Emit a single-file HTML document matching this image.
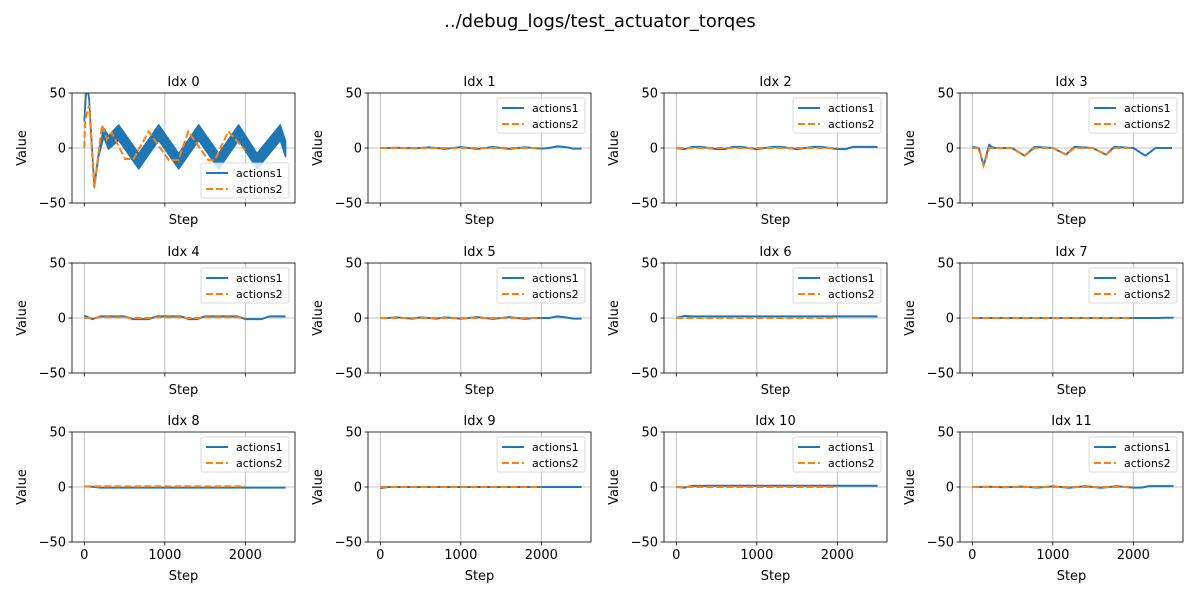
<!DOCTYPE html>
<html><head><meta charset="utf-8"><style>
body{margin:0;background:#fff;}
svg text{font-family:"DejaVu Sans","Liberation Sans",sans-serif;fill:#000;}
</style></head><body>
<svg id="fig" width="1200" height="600" viewBox="0 0 1200 600" xmlns="http://www.w3.org/2000/svg">
<rect width="1200" height="600" fill="#fff"/>
<text x="600" y="27" font-size="18" text-anchor="middle">../debug_logs/test_actuator_torqes</text>
</svg>
<script>
const xTicks=[0,1000,2000];
const yTicks=[-50,0,50];
const xTickLabels=["0","1000","2000"];
const yTickLabels=["−50","0","50"];
const stepsA=[0,100,200,300,400,500,600,700,800,900,1000,1100,1200,1300,1400,1500,1600,1700,1800,1900,2000,2100,2200,2300,2400,2500];
const stepsB=[0,100,200,300,400,500,600,700,800,900,1000,1100,1200,1300,1400,1500,1600,1700,1800,1900,2000];
const idx0Steps1=[0,30,60,124,180,241,300,427,675,924,1172,1421,1669,1917,2145,2435,2500];
const idx0Vals1=[25,58,45,-35,-5,14,5,14,-12,14,-12,14,-12,14,-12,14,-1];
const idx0Half=[1,1,1,1,2,4,6,7,7,7,7,7,7,7,7,7,7];
const idx0Steps2=[0,10,60,124,220,280,340,508,610,800,1050,1170,1290,1540,1620,1790,2000];
const idx0Vals2=[0,25,39,-36,21,8,14,-10,-10,15,-11,-11,15,-11,-11,15,-2];
const idx3Steps1=[0,80,140,210,240,280,490,650,775,1000,1165,1268,1495,1660,1765,2000,2150,2275,2480];
const idx3Vals1=[1,0,-16,3,1,0,0,-7,1,0,-6,1,0,-6,1,0,-7,0,0];
const idx3Steps2=[0,80,140,210,490,650,775,1000,1165,1268,1495,1660,1765,2000];
const idx3Vals2=[0,0,-16,0,0,-7,0,0,-6,0,0,-6,0,0];
const vals1={
1:[0,0,0.3,0,-0.3,0,0.5,0,-0.8,0,0.8,0,-0.8,0,0.9,0,-0.8,0,0.5,0,-0.5,0,1.5,0.8,-0.5,-0.5],
2:[0,-1,1,1,0,-1,-1,1,1,0,-1,0,1,1,0,-1,0,1,1,0,-1,-1,1,1,1,1],
4:[2,-1,1.5,1.5,1.5,1.5,-1,-1,-1,1.5,1.5,1.5,1.5,-1,-1,1.5,1.5,1.5,1.5,1.5,-1,-1,-1,1.5,1.5,1.5],
5:[0,0,0.5,0,-0.5,0.5,0,-0.5,0.5,0,-0.5,0,0.8,0,-0.8,0,0.8,0,-0.8,0,0,0,1.5,0.5,-0.5,-0.5],
6:[0,1.8,1.5,1.5,1.5,1.5,1.5,1.5,1.5,1.5,1.5,1.5,1.5,1.5,1.5,1.5,1.5,1.5,1.5,1.5,1.5,1.5,1.5,1.5,1.5,1.5],
7:[0,0,0,0,0,0,0,0,0,0,0,0,0,0,0,0,0,0,0,0,0,0,0,0,0.3,0.3],
8:[0.5,0.3,-0.5,-0.5,-0.5,-0.5,-0.5,-0.5,-0.5,-0.5,-0.5,-0.5,-0.5,-0.5,-0.5,-0.5,-0.5,-0.5,-0.5,-0.5,-0.5,-0.5,-0.5,-0.5,-0.5,-0.5],
9:[-1,0,0,0,0,0,0,0,0,0,0,0,0,0,0,0,0,0,0,0,0,0,0,0,0,0],
10:[0,-0.5,1,1,1.2,1.2,1.2,1.2,1.2,1.2,1.2,1.2,1.2,1.2,1.2,1.2,1.2,1.2,1.2,1.2,1.2,1.2,1.2,1.2,1.2,1.2],
11:[0,0,0.3,0,-0.3,0,0.4,0,-0.5,0,0.5,0,-0.6,0,0.6,0,-0.6,0,0.6,0,-0.5,-0.5,0.8,0.8,0.8,0.8]
};
const vals2={
1:[0,0,0,0,0,0,0,0,0,0,0,0,0,0,0,0,0,0,0,0,0],
2:[0,0,0,0,0,0,0,0,0,0,0,0,0,0,0,0,0,0,0,0,0],
4:[0,0,0.5,0.5,0.5,0.5,0,0,0,0.5,0.5,0.5,0.5,0,0,0.5,0.5,0.5,0.5,0.5,0],
5:[0,0,0,0,0,0,0,0,0,0,0,0,0,0,0,0,0,0,0,0,0],
6:[0,0,0,0,0,0,0,0,0,0,0,0,0,0,0,0,0,0,0,0,0],
7:[0,0,0,0,0,0,0,0,0,0,0,0,0,0,0,0,0,0,0,0,0],
8:[0.5,0.5,0.5,0.5,0.5,0.5,0.5,0.5,0.5,0.5,0.5,0.5,0.5,0.5,0.5,0.5,0.5,0.5,0.5,0.5,0.5],
9:[0,0,0,0,0,0,0,0,0,0,0,0,0,0,0,0,0,0,0,0,0],
10:[0,0,0,0,0,0,0,0,0,0,0,0,0,0,0,0,0,0,0,0,0],
11:[0,0,0,0,0,0,0,0,0,0,0,0,0,0,0,0,0,0,0,0,0]
};
const NS="http://www.w3.org/2000/svg";
const svg=document.getElementById('fig');
function mk(tag,at,parent){const e=document.createElementNS(NS,tag);for(const k in at)e.setAttribute(k,at[k]);(parent||svg).appendChild(e);return e;}
const lefts=[72,368,664,960],tops=[93,263,432],W=223,H=110;
const XMIN=-153,XMAX=2617,YMIN=-50,YMAX=50;
for(let i=0;i<12;i++){
  const r=Math.floor(i/4),c=i%4,L=lefts[c],T=tops[r];
  const sx=v=>L+(v-XMIN)/(XMAX-XMIN)*W, sy=v=>T+H-(v-YMIN)/(YMAX-YMIN)*H;
  const g=mk('g',{});
  
  
  const cp=mk('clipPath',{id:'cp'+i},g);mk('rect',{x:L,y:T,width:W,height:H},cp);
  xTicks.forEach((t,k)=>{
    const gl=mk('line',{x1:sx(t),x2:sx(t),y1:T,y2:T+H,stroke:'#b0b0b0','stroke-width':0.8},g);
    
    
    mk('line',{x1:sx(t),x2:sx(t),y1:T+H,y2:T+H+3.5,stroke:'#000','stroke-width':0.8},g);
    if(r===2){const tx=mk('text',{x:sx(t),y:T+H+17,'font-size':13,'text-anchor':'middle'},g);tx.textContent=xTickLabels[k];
      
      }
  });
  yTicks.forEach((t,k)=>{
    if(t===0){mk('line',{x1:L,x2:L+W,y1:sy(t),y2:sy(t),stroke:'#b0b0b0','stroke-width':0.8},g);}
    mk('line',{x1:L-3.5,x2:L,y1:sy(t),y2:sy(t),stroke:'#000','stroke-width':0.8},g);
    const tx=mk('text',{x:L-6,y:sy(t)+4.5,'font-size':13,'text-anchor':'end'},g);tx.textContent=yTickLabels[k];
    
    
  });
  let s1,v1,s2,v2;
  if(i===0){s1=idx0Steps1;v1=idx0Vals1;s2=idx0Steps2;v2=idx0Vals2;}
  else if(i===3){s1=idx3Steps1;v1=idx3Vals1;s2=idx3Steps2;v2=idx3Vals2;}
  else{s1=stepsA;v1=vals1[i];s2=stepsB;v2=vals2[i];}
  const pts=(s,v)=>s.map((x,k)=>sx(x).toFixed(1)+','+sy(v[k]).toFixed(1)).join(' ');
  if(i===0){
    const up=s1.map((x,k)=>sx(x).toFixed(1)+','+sy(v1[k]+idx0Half[k]).toFixed(1));
    const lo=s1.map((x,k)=>sx(x).toFixed(1)+','+sy(v1[k]-idx0Half[k]).toFixed(1)).reverse();
    const band=mk('polygon',{points:up.concat(lo).join(' '),fill:'#1f77b4',stroke:'#1f77b4','stroke-width':1.5,'stroke-linejoin':'round','clip-path':'url(#cp0)'},g);
    
    
  }
  const l1=mk('polyline',{points:pts(s1,v1),fill:'none',stroke:'#1f77b4','stroke-width':i===0?1.5:2,'stroke-linejoin':'round','clip-path':'url(#cp'+i+')'},g);
  
  
  const l2=mk('polyline',{points:pts(s2,v2),fill:'none',stroke:'#ff7f0e','stroke-width':2,'stroke-dasharray':'7,3','clip-path':'url(#cp'+i+')'},g);
  
  
  mk('rect',{x:L,y:T,width:W,height:H,fill:'none',stroke:'#000','stroke-width':0.8},g);
  const tt=mk('text',{x:L+W/2,y:T-7,'font-size':13,'text-anchor':'middle'},g);tt.textContent='Idx '+i;
  
  
  const xl=mk('text',{x:L+W/2,y:r===2?T+H+38:T+H+21,'font-size':13,'text-anchor':'middle'},g);xl.textContent='Step';
  
  
  const yl=mk('text',{x:0,y:0,'font-size':13,'text-anchor':'middle',transform:`translate(${L-46},${T+H/2}) rotate(-90)`},g);yl.textContent='Value';
  
  
  const lx=L+W-94, ly=i===0?T+H-40:T+5;
  const lg=mk('g',{},g);
  
  
  mk('rect',{x:lx,y:ly,width:88,height:35,rx:2,fill:'#fff','fill-opacity':0.8,stroke:'#d0d0d0','stroke-width':0.8},lg);
  mk('line',{x1:lx+5,x2:lx+27,y1:ly+10,y2:ly+10,stroke:'#1f77b4','stroke-width':2},lg);
  mk('line',{x1:lx+5,x2:lx+27,y1:ly+26,y2:ly+26,stroke:'#ff7f0e','stroke-width':2,'stroke-dasharray':'7,3'},lg);
  const t1=mk('text',{x:lx+35,y:ly+14,'font-size':11},lg);t1.textContent='actions1';
  
  
  const t2=mk('text',{x:lx+35,y:ly+30,'font-size':11},lg);t2.textContent='actions2';
  
  
}
</script>
</body></html>
